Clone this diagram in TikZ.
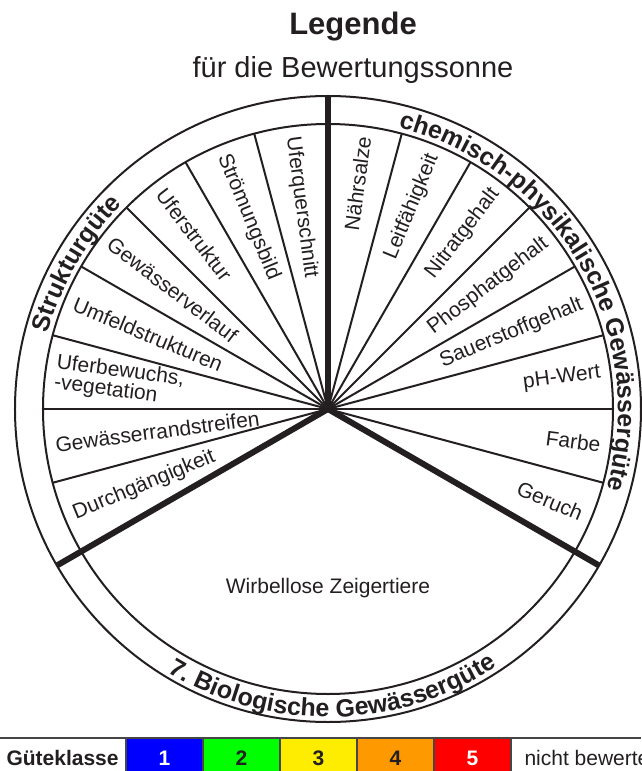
\documentclass[tikz,border=0pt]{standalone}
\usepackage{fontspec}
\setmainfont{Liberation Sans}
\usetikzlibrary{decorations.text}

\definecolor{tinte}{RGB}{35,31,32}
\definecolor{rahmen}{RGB}{70,70,70}
\definecolor{gkblau}{RGB}{0,0,255}
\definecolor{gkgruen}{RGB}{0,255,0}
\definecolor{gkgelb}{RGB}{255,237,0}
\definecolor{gkorange}{RGB}{255,153,0}
\definecolor{gkrot}{RGB}{255,0,0}

\begin{document}
\begin{tikzpicture}[x=1pt, y=1pt,
    spoke/.style={draw=tinte, line width=2pt},
    mainspoke/.style={draw=tinte, line width=6pt},
    ring/.style={draw=tinte, line width=2pt},
    labelleft/.style={anchor=west, inner sep=0pt, text=tinte, font=\fontsize{21}{22}\selectfont},
    labelright/.style={anchor=east, inner sep=0pt, text=tinte, font=\fontsize{21}{22}\selectfont},
    cellline/.style={draw=rahmen, line width=1.5pt},
    cellnum/.style={anchor=base, font=\bfseries\fontsize{21}{22}\selectfont}]

    \useasboundingbox (-328,-362) rectangle (313,409);  % the page, 641 x 771

    % Titles
    \node[anchor=base, text=tinte, font=\bfseries\fontsize{31}{34}\selectfont] (legende) at (25,374) {Legende};  % heading
    \node[anchor=base, text=tinte, font=\fontsize{29}{32}\selectfont] (untertitel) at (25,331) {für die Bewertungssonne};  % subheading

    % Rings
    \coordinate (mitte) at (0,0);  % centre of the sun
    \draw[ring] (mitte) circle[radius=313];  % outer ring
    \draw[ring] (mitte) circle[radius=285];  % inner ring

    % Thin spokes, Strukturguete
    \draw[spoke] (mitte) -- (105:285);
    \draw[spoke] (mitte) -- (120:285);
    \draw[spoke] (mitte) -- (135:285);
    \draw[spoke] (mitte) -- (150:285);
    \draw[spoke] (mitte) -- (165:285);
    \draw[spoke] (mitte) -- (180:285);
    \draw[spoke] (mitte) -- (195:285);

    % Thin spokes, chemisch-physikalisch
    \draw[spoke] (mitte) -- (75:285);
    \draw[spoke] (mitte) -- (60:285);
    \draw[spoke] (mitte) -- (45:285);
    \draw[spoke] (mitte) -- (30:285);
    \draw[spoke] (mitte) -- (15:285);
    \draw[spoke] (mitte) -- (0:285);
    \draw[spoke] (mitte) -- (-15:285);

    % Thick spokes between the three parts
    \draw[mainspoke] (mitte) -- (90:313);
    \draw[mainspoke] (mitte) -- (210:313);
    \draw[mainspoke] (mitte) -- (330:313);

    % Labels, left part
    \node[labelleft, rotate=-82.5] (uferquerschnitt) at (97.5:275) {Uferquerschnitt};
    \node[labelleft, rotate=-67.5] (stroemungsbild) at (112.5:275) {Strömungsbild};
    \node[labelleft, rotate=-52.5] (uferstruktur) at (127.5:275) {Uferstruktur};
    \node[labelleft, rotate=-37.5] (gewaesserverlauf) at (142.5:275) {Gewässerverlauf};
    \node[labelleft, rotate=-22.5] (umfeld) at (157.5:275) {Umfeldstrukturen};
    \node[labelleft, rotate=-7.5, align=left, font=\fontsize{21}{20}\selectfont] (uferbewuchs) at (172.5:275) {Uferbewuchs,\\-vegetation};
    \node[labelleft, rotate=7.5] (randstreifen) at (187.5:275) {Gewässerrandstreifen};
    \node[labelleft, rotate=22.5] (durchgaengigkeit) at (202.5:275) {Durchgängigkeit};

    % Labels, right part
    \node[labelright, rotate=82.5] (naehrsalze) at (82.5:275) {Nährsalze};
    \node[labelright, rotate=67.5] (leitfaehigkeit) at (67.5:275) {Leitfähigkeit};
    \node[labelright, rotate=52.5] (nitrat) at (52.5:275) {Nitratgehalt};
    \node[labelright, rotate=37.5] (phosphat) at (37.5:275) {Phosphatgehalt};
    \node[labelright, rotate=22.5] (sauerstoff) at (22.5:275) {Sauerstoffgehalt};
    \node[labelright, rotate=7.5] (phwert) at (7.5:275) {pH-Wert};
    \node[labelright, rotate=-7.5] (farbe) at (-7.5:275) {Farbe};
    \node[labelright, rotate=-22.5] (geruch) at (-22.5:275) {Geruch};

    % Lower part
    \node[anchor=base, text=tinte, font=\fontsize{21}{22}\selectfont] (wirbellose) at (0,-184) {Wirbellose Zeigertiere};

    % Ring titles
    \path[decorate, decoration={text along path, text align=center, text color=tinte,
        text={|\bfseries\fontsize{25}{27}\selectfont|Strukturgüte}}]
        (180:290) arc[start angle=180, end angle=120, radius=290];
    \path[decorate, decoration={text along path, text align=center, text color=tinte,
        text={|\bfseries\fontsize{25}{27}\selectfont|chemisch-physikalische Gewässergüte}}]
        (90:290) arc[start angle=90, end angle=-30, radius=290];
    \path[decorate, decoration={text along path, text align=center, text color=tinte,
        text={|\bfseries\fontsize{25}{27}\selectfont|7. Biologische Gewässergüte}}]
        (201:308) arc[start angle=201, end angle=341, radius=308];

    % Guteklasse row
    \fill[gkblau] (-202,-329) rectangle (-125,-380);
    \fill[gkgruen] (-125,-329) rectangle (-48,-380);
    \fill[gkgelb] (-48,-329) rectangle (29,-380);
    \fill[gkorange] (29,-329) rectangle (106,-380);
    \fill[gkrot] (106,-329) rectangle (183,-380);
    \draw[cellline] (-202,-329) -- (-202,-380);
    \draw[cellline] (-125,-329) -- (-125,-380);
    \draw[cellline] (-48,-329) -- (-48,-380);
    \draw[cellline] (29,-329) -- (29,-380);
    \draw[cellline] (106,-329) -- (106,-380);
    \draw[cellline] (183,-329) -- (183,-380);
    \draw[draw=rahmen, line width=2pt] (-328,-329) -- (313,-329);  % top edge of the row

    \node[anchor=base west, text=tinte, font=\bfseries\fontsize{21}{22}\selectfont] (gueteklasse) at (-325,-356) {Güteklasse};
    \node[cellnum, text=white] (klasse1) at (-163.5,-356) {1};
    \node[cellnum, text=tinte] (klasse2) at (-86.5,-356) {2};
    \node[cellnum, text=tinte] (klasse3) at (-9.5,-356) {3};
    \node[cellnum, text=tinte] (klasse4) at (67.5,-356) {4};
    \node[cellnum, text=white] (klasse5) at (144.5,-356) {5};
    \node[anchor=base west, text=tinte, font=\fontsize{21}{22}\selectfont] (nichtbewertet) at (193,-356) {nicht bewertet};
\end{tikzpicture}
\end{document}
